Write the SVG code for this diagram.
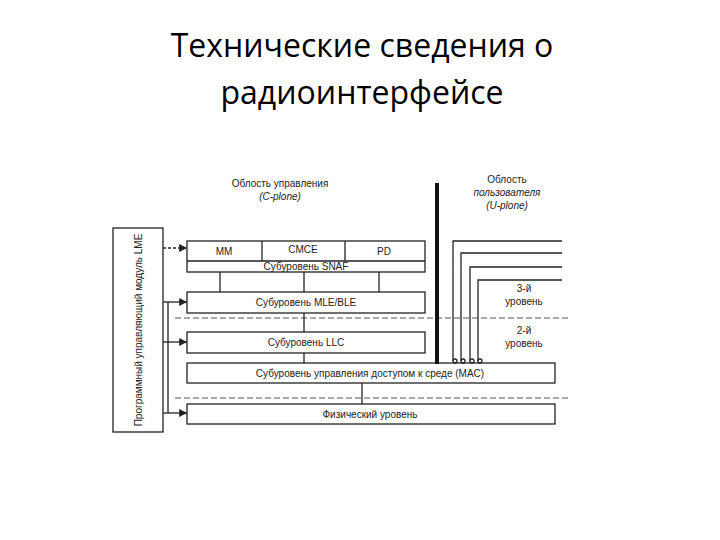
<svg xmlns="http://www.w3.org/2000/svg" width="720" height="540" viewBox="0 0 720 540">
<defs>
<marker id="ar" viewBox="0 0 8 8" refX="8" refY="4" markerWidth="6" markerHeight="6" orient="auto"><path d="M0,0 L8,4 L0,8 z" fill="#222"/></marker>
<style>
.b{fill:#fff;stroke:#222;stroke-width:1.3}
.l{stroke:#222;stroke-width:1.3;fill:none}
.t{font-family:"Liberation Sans",Arial,sans-serif;font-size:10px;fill:#222;text-anchor:middle}
.ti{font-family:"Liberation Sans",Arial,sans-serif;font-size:10px;fill:#222;text-anchor:middle;font-style:italic}
.h{font-family:"Open Sans","Liberation Sans",sans-serif;font-size:32px;fill:#000;text-anchor:middle}
.d{stroke:#555;stroke-width:1;stroke-dasharray:6 3;fill:none}
</style>
</defs>
<rect width="720" height="540" fill="#fff"/>
<text class="h" x="362" y="57">Технические сведения о</text>
<text class="h" x="362" y="104">радиоинтерфейсе</text>
<text class="t" x="280" y="187">Облость управления</text>
<text class="ti" x="280" y="200">(C-plone)</text>
<text class="t" x="507" y="183">Облость</text>
<text class="ti" x="507" y="196">пользователя</text>
<text class="ti" x="507" y="209">(U-plone)</text>
<text class="t" x="524" y="292">3-й</text>
<text class="t" x="524" y="305">уровень</text>
<text class="t" x="524" y="334">2-й</text>
<text class="t" x="524" y="347">уровень</text>
<g id="lme"><rect class="b" x="113" y="228" width="50" height="204"/><text class="t" font-size="9" transform="translate(142,330) rotate(-90)">Программный управляющий модуль LME</text></g>
<g id="snaf"><rect class="b" x="187" y="241" width="238" height="31"/><line class="l" x1="187" y1="261" x2="425" y2="261"/><line class="l" x1="262" y1="241" x2="262" y2="261"/><line class="l" x1="345" y1="241" x2="345" y2="261"/>
<text class="t" x="224" y="255">MM</text><text class="t" x="303" y="253">CMCE</text><text class="t" x="384" y="255">PD</text><text class="t" x="306" y="270" font-size="8">Субуровень SNAF</text></g>
<g id="mle"><rect class="b" x="187" y="292" width="238" height="21"/><text class="t" x="306" y="306">Субуровень MLE/BLE</text></g>
<g id="llc"><rect class="b" x="187" y="332" width="238" height="21"/><text class="t" x="306" y="346">Субуровень LLC</text></g>
<g id="mac"><rect class="b" x="187" y="363" width="368" height="20"/><text class="t" x="370" y="377" font-size="9">Субуровень управления доступом к среде (MAC)</text></g>
<g id="phy"><rect class="b" x="187" y="404" width="368" height="20"/><text class="t" x="370" y="418">Физический уровень</text></g>
<g id="connectors">
<line class="d" x1="175" y1="318" x2="570" y2="318"/>
<line class="d" x1="175" y1="398" x2="570" y2="398"/>
<line class="l" x1="163" y1="248" x2="187" y2="248" stroke-dasharray="3 2" marker-end="url(#ar)"/>
<line class="l" x1="163" y1="302" x2="187" y2="302" marker-end="url(#ar)"/>
<line class="l" x1="163" y1="342" x2="187" y2="342" marker-end="url(#ar)"/>
<line class="l" x1="163" y1="413" x2="187" y2="413" marker-end="url(#ar)"/>
<line class="l" x1="168" y1="302" x2="168" y2="413"/>
<line class="l" x1="220" y1="272" x2="220" y2="292"/>
<line class="l" x1="304" y1="272" x2="304" y2="292" stroke-width="0.8"/>
<line class="l" x1="379" y1="272" x2="379" y2="292"/>
<line class="l" x1="304" y1="313" x2="304" y2="332" stroke-width="0.8"/>
<line class="l" x1="304" y1="353" x2="304" y2="363" stroke-width="0.8"/>
<line class="l" x1="362" y1="383" x2="362" y2="404"/>
<line x1="437" y1="183" x2="437" y2="364" stroke="#111" stroke-width="4"/>
<path class="l" d="M453,361 V241 H562 M461,361 V253 H562 M470,361 V267 H562 M478,361 V280 H562"/>
<g class="l" stroke-width="1"><circle cx="455" cy="361" r="2"/><circle cx="463" cy="361" r="2"/><circle cx="472" cy="361" r="2"/><circle cx="480" cy="361" r="2"/></g>
</g>
</svg>
